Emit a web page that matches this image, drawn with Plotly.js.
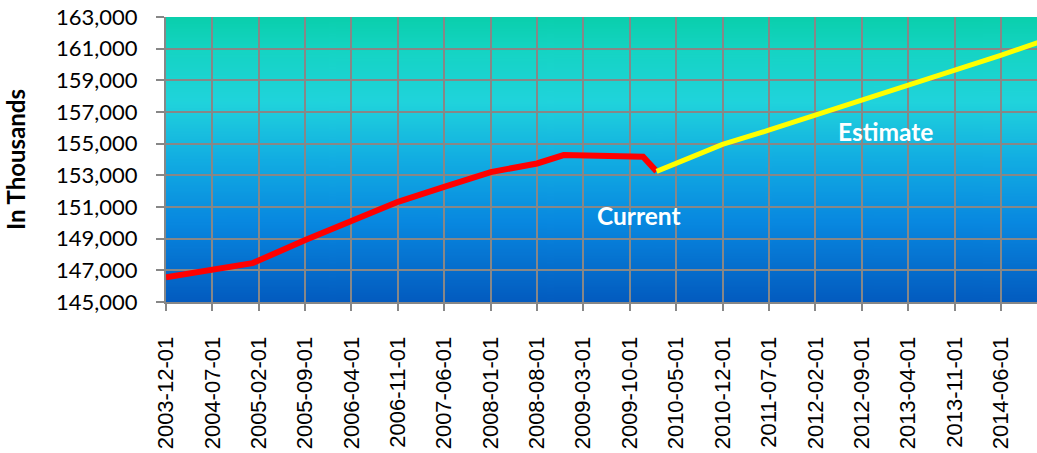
<!DOCTYPE html>
<html>
<head>
<meta charset="utf-8">
<script src="https://cdn.plot.ly/plotly-3.0.1.min.js"></script>
<style>
  html, body { margin: 0; padding: 0; background: #ffffff; }
  #chart { width: 1037px; height: 453px; }
</style>
</head>
<body>
<div id="chart"></div>
<script>
// ---- data ----
const currentDates = ['2003-12-01','2005-01-01','2005-09-01','2006-04-01','2006-11-01','2007-06-01','2008-01-01','2008-08-01','2008-12-01','2009-12-01','2010-02-01'];
const currentValues = [146560,147450,148910,150070,151330,152270,153200,153750,154280,154170,153250];

const estimateDates = ['2010-02-01','2010-12-01','2011-07-01','2012-02-01','2012-09-01','2013-04-01','2013-11-01','2014-06-01','2014-12-01'];
const estimateValues = [153250,154950,155850,156800,157700,158620,159580,160580,161440];

const yTickValues = [145000,147000,149000,151000,153000,155000,157000,159000,161000,163000];
const seriesLabels = ['Current','Estimate'];
const yTitle = 'In Thousands';

// ---- background gradient (plot area) ----
function gradientImage() {
  const c = document.createElement('canvas');
  c.width = 8; c.height = 400;
  const g = c.getContext('2d');
  const grd = g.createLinearGradient(0, 0, 0, 400);
  grd.addColorStop(0.00, '#0acfac');
  grd.addColorStop(0.12, '#15d4c4');
  grd.addColorStop(0.30, '#20d3dc');
  grd.addColorStop(0.50, '#12ade2');
  grd.addColorStop(0.72, '#0888e0');
  grd.addColorStop(1.00, '#035bbf');
  g.fillStyle = grd;
  g.fillRect(0, 0, 8, 400);
  return c.toDataURL('image/png');
}

const gridColor = '#878787';

const traces = [
  {
    x: currentDates, y: currentValues, name: seriesLabels[0],
    type: 'scatter', mode: 'lines',
    line: { color: '#ff0000', width: 6 },
    hoverinfo: 'x+y'
  },
  {
    x: estimateDates, y: estimateValues, name: seriesLabels[1],
    type: 'scatter', mode: 'lines',
    line: { color: '#ffff00', width: 5 },
    hoverinfo: 'x+y'
  }
];

const layout = {
  width: 1037, height: 453,
  margin: { l: 166, r: 0, t: 17, b: 151, pad: 0 },
  paper_bgcolor: '#ffffff',
  plot_bgcolor: '#12a8e0',
  showlegend: false,
  xaxis: {
    type: 'date',
    range: ['2003-12-01', '2014-11-15'],
    tick0: '2003-12-01',
    dtick: 'M7',
    tickformat: '%Y-%m-%d',
    tickangle: -90,
    tickfont: { family: 'Liberation Sans, Arial, sans-serif', size: 22, color: '#000000' },
    ticks: 'outside', ticklen: 7, tickwidth: 2, tickcolor: gridColor,
    ticklabelstandoff: 17,
    showgrid: true, gridcolor: gridColor, gridwidth: 2,
    showline: true, linecolor: gridColor, linewidth: 2,
    zeroline: false, fixedrange: true
  },
  yaxis: {
    range: [145000, 163000],
    tickvals: yTickValues,
    tickformat: ',d',
    tickfont: { family: 'Lato, Calibri, sans-serif', size: 22, color: '#000000' },
    ticks: 'outside', ticklen: 8, tickwidth: 2, tickcolor: gridColor,
    ticklabelstandoff: 14,
    showgrid: true, gridcolor: gridColor, gridwidth: 2,
    showline: true, linecolor: gridColor, linewidth: 2,
    zeroline: false, fixedrange: true,
    title: {
      text: yTitle,
      font: { family: 'Lato, Calibri, sans-serif', size: 24, color: '#000000', weight: 'bold' },
      standoff: 24
    }
  },
  images: [{
    source: gradientImage(),
    xref: 'paper', yref: 'paper',
    x: 0, y: 1, sizex: 1, sizey: 1,
    xanchor: 'left', yanchor: 'top',
    sizing: 'stretch', layer: 'below'
  }],
  annotations: [
    {
      text: '<b>' + seriesLabels[0] + '</b>',
      xref: 'paper', yref: 'paper', x: 0.543, y: 0.303,
      xanchor: 'center', yanchor: 'middle', showarrow: false,
      font: { family: 'Lato, Calibri, sans-serif', size: 24.5, color: '#ffffff' }
    },
    {
      text: '<b>' + seriesLabels[1] + '</b>',
      xref: 'paper', yref: 'paper', x: 0.8255, y: 0.60,
      xanchor: 'center', yanchor: 'middle', showarrow: false,
      font: { family: 'Lato, Calibri, sans-serif', size: 24.5, color: '#ffffff' }
    }
  ]
};

Plotly.newPlot('chart', traces, layout, { displayModeBar: false, staticPlot: true });
</script>
</body>
</html>
